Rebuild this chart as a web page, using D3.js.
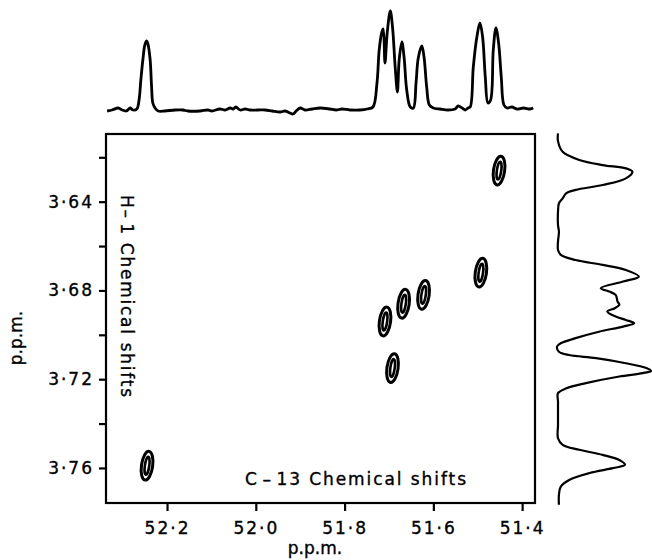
<!DOCTYPE html>
<html>
<head>
<meta charset="utf-8">
<script src="https://cdn.jsdelivr.net/npm/d3@7"></script>
<style>
  body { margin: 0; background: #fff; }
  svg { display: block; font-family: "DejaVu Sans", sans-serif; }
  svg text { fill: #000; stroke: #000; stroke-width: 0.35px; }
</style>
</head>
<body>
<div id="chart"></div>
<script>
// C-13 / H-1 correlation peaks [C-13 ppm, H-1 ppm]
const crossPeaks = [
  [52.245, 3.759],
  [51.709, 3.694],
  [51.692, 3.715],
  [51.667, 3.686],
  [51.622, 3.682],
  [51.493, 3.672],
  [51.452, 3.626]
];

// C-13 projection (top), [ppm, intensity]
const carbonTrace = [
  [52.335, -1], [52.324, 0], [52.310, 2], [52.301, 0], [52.292, -1], [52.283, 2],
  [52.277, 0], [52.268, 1], [52.263, 10], [52.259, 30], [52.254, 52], [52.250, 65],
  [52.246, 69], [52.243, 66], [52.238, 50], [52.235, 25], [52.232, 7], [52.227, 2],
  [52.220, -1], [52.205, -1], [52.182, 0], [52.164, 0], [52.153, -1], [52.126, -1],
  [52.108, 0], [52.099, -1], [52.081, 1], [52.069, 0], [52.058, 2], [52.051, 1],
  [52.045, 3], [52.035, 0], [52.024, 1], [52.013, 0], [51.995, 0], [51.979, 0],
  [51.963, -1], [51.945, -2], [51.934, -1], [51.923, -3], [51.916, -4], [51.909, -1],
  [51.900, 2], [51.889, 0], [51.873, 1], [51.855, 2], [51.833, 1], [51.819, 0],
  [51.806, 1], [51.788, 0], [51.765, 0], [51.749, 1], [51.736, 3], [51.727, 27],
  [51.722, 60], [51.716, 78], [51.713, 81], [51.709, 47], [51.704, 77], [51.697, 99],
  [51.692, 83], [51.686, 43], [51.681, 18], [51.677, 50], [51.671, 68], [51.666, 53],
  [51.660, 20], [51.652, 3], [51.645, 2], [51.639, 27], [51.634, 52], [51.626, 64],
  [51.621, 53], [51.615, 23], [51.609, 5], [51.600, 2], [51.585, 1], [51.567, 0],
  [51.551, 1], [51.544, 4], [51.535, 2], [51.528, 0], [51.522, 2], [51.517, 3],
  [51.510, 43], [51.502, 73], [51.495, 87], [51.489, 73], [51.483, 33], [51.477, 7],
  [51.471, 10], [51.465, 60], [51.459, 82], [51.453, 67], [51.447, 33], [51.441, 5],
  [51.434, 2], [51.423, 3], [51.412, 1], [51.397, 2], [51.382, 1], [51.375, 2]
];

// H-1 projection (right), [ppm, intensity]
const protonTrace = [
  [3.6092, 0], [3.6127, 0], [3.6175, 5], [3.6212, 23], [3.6235, 48], [3.6250, 73],
  [3.6265, 80], [3.6295, 73], [3.6325, 48], [3.6347, 19], [3.6362, 9], [3.6385, 5],
  [3.6407, 1], [3.6445, 0], [3.6505, 0], [3.6535, 1], [3.6580, 0], [3.6618, 0],
  [3.6640, 3], [3.6663, 19], [3.6685, 48], [3.6708, 73], [3.6738, 87], [3.6760, 70],
  [3.6790, 46], [3.6805, 55], [3.6820, 62], [3.6850, 64], [3.6865, 66], [3.6880, 61],
  [3.6895, 53], [3.6918, 62], [3.6933, 73], [3.6948, 82], [3.6963, 70], [3.6986, 44],
  [3.7015, 19], [3.7038, 3], [3.7053, -1], [3.7076, 1], [3.7091, 12], [3.7105, 41],
  [3.7128, 73], [3.7150, 95], [3.7163, 100], [3.7173, 91], [3.7188, 66], [3.7218, 30],
  [3.7241, 9], [3.7263, 0], [3.7301, 0], [3.7346, 0], [3.7406, 0], [3.7466, 0],
  [3.7496, 5], [3.7518, 23], [3.7541, 48], [3.7564, 66], [3.7586, 72], [3.7601, 59],
  [3.7623, 34], [3.7654, 12], [3.7684, 3], [3.7721, 1], [3.7766, 1]
];

const xTicks = [52.2, 52.0, 51.8, 51.6, 51.4];
const yTicks = [3.62, 3.64, 3.66, 3.68, 3.70, 3.72, 3.74, 3.76];
const yLabelled = [3.64, 3.68, 3.72, 3.76];

const width = 652;
const height = 560;
const box = { left: 106, right: 535, top: 134, bottom: 503 };

const fmt = (d, n) => d.toFixed(n).replace('.', '\u00b7');

const svg = d3.select('#chart').append('svg')
  .attr('width', width)
  .attr('height', height);

const x = d3.scaleLinear().domain([52.3375, 51.371]).range([box.left, box.right]);
const y = d3.scaleLinear().domain([3.6095, 3.7758]).range([box.top, box.bottom]);
const topY = d3.scaleLinear().domain([0, 100]).range([110, 10]);
const sideX = d3.scaleLinear().domain([0, 100]).range([558, 651]);

// frame
svg.append('rect')
  .attr('x', box.left)
  .attr('y', box.top)
  .attr('width', box.right - box.left)
  .attr('height', box.bottom - box.top)
  .attr('fill', 'none')
  .attr('stroke', '#000')
  .attr('stroke-width', 2.2);

// axes
const xAxis = svg.append('g')
  .attr('transform', `translate(0,${box.bottom})`)
  .call(d3.axisBottom(x).tickValues(xTicks).tickSize(8).tickPadding(11)
    .tickFormat((d) => fmt(d, 1)));

const yAxis = svg.append('g')
  .attr('transform', `translate(${box.left},0)`)
  .call(d3.axisLeft(y).tickValues(yTicks).tickSize(7).tickPadding(5)
    .tickFormat((d) => (yLabelled.some((v) => Math.abs(v - d) < 1e-6) ? fmt(d, 2) : '')));

[xAxis, yAxis].forEach((g) => {
  g.attr('font-size', null).attr('font-family', null);
  g.select('.domain').remove();
  g.selectAll('.tick line').attr('stroke', '#000').attr('stroke-width', 2.2);
  g.selectAll('.tick text')
    .style('font-size', '17px')
    .style('letter-spacing', '2px');
});

// axis titles
svg.append('text')
  .attr('x', 315)
  .attr('y', 554)
  .attr('text-anchor', 'middle')
  .style('font-size', '17px')
  .text('p.p.m.');

svg.append('text')
  .attr('transform', 'translate(22,338) rotate(-90)')
  .attr('text-anchor', 'middle')
  .style('font-size', '17px')
  .text('p.p.m.');

svg.append('text')
  .attr('x', 245)
  .attr('y', 485)
  .style('font-size', '17px')
  .attr('textLength', 221)
  .attr('lengthAdjust', 'spacing')
  .text('C\u200a\u2013\u200a13 Chemical shifts');

svg.append('text')
  .attr('transform', 'translate(121,195) rotate(90)')
  .style('font-size', '17px')
  .attr('textLength', 202)
  .attr('lengthAdjust', 'spacing')
  .text('H\u2013\u200a1 Chemical shifts');

// contour peaks: two nested levels each
const levels = [
  { rx: 5.6, ry: 14.5, w: 3 },
  { rx: 2.2, ry: 9, w: 2.6 }
];
const peaks = svg.append('g').attr('fill', 'none').attr('stroke', '#000');
crossPeaks.forEach(([c, h]) => {
  const g = peaks.append('g')
    .attr('transform', `translate(${x(c)},${y(h)}) rotate(8)`);
  levels.forEach((l) => {
    g.append('ellipse')
      .attr('rx', l.rx)
      .attr('ry', l.ry)
      .attr('stroke-width', l.w);
  });
});

// projections
const topLine = d3.line()
  .x((d) => x(d[0]))
  .y((d) => topY(d[1]))
  .curve(d3.curveCatmullRom);

svg.append('path')
  .datum(carbonTrace)
  .attr('d', topLine)
  .attr('fill', 'none')
  .attr('stroke', '#000')
  .attr('stroke-width', 2.8)
  .attr('stroke-linejoin', 'round');

const sideLine = d3.line()
  .x((d) => sideX(d[1]))
  .y((d) => y(d[0]))
  .curve(d3.curveCatmullRom);

svg.append('path')
  .datum(protonTrace)
  .attr('d', sideLine)
  .attr('fill', 'none')
  .attr('stroke', '#000')
  .attr('stroke-width', 2.2)
  .attr('stroke-linejoin', 'round');
</script>
</body>
</html>
